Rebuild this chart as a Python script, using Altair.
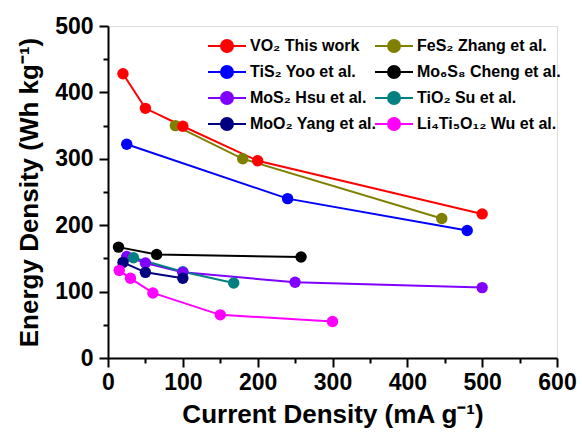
import altair as alt
import pandas as pd

series = ["VO₂ This work", "FeS₂ Zhang et al.", "TiS₂ Yoo et al.", "Mo₆S₈ Cheng et al.",
          "MoS₂ Hsu et al.", "TiO₂ Su et al.", "MoO₂ Yang et al.", "Li₄Ti₅O₁₂ Wu et al."]
colors = ["#ff0000", "#808000", "#0000ff", "#000000", "#8000ff", "#008080", "#000080", "#ff00ff"]

vo2_x = [20, 50, 100, 200, 500]
vo2_y = [428, 376, 349, 297, 217]
fes2_x = [90, 180, 446]
fes2_y = [350, 300, 210]
tis2_x = [25, 240, 480]
tis2_y = [322, 240, 192]
mo6s8_x = [14, 65, 258]
mo6s8_y = [167, 156, 152]
mos2_x = [25, 50, 100, 250, 500]
mos2_y = [153, 143, 129, 114, 106]
tio2_x = [34, 100, 168]
tio2_y = [151, 130, 113]
moo2_x = [20, 50, 100]
moo2_y = [144, 129, 120]
lto_x = [15, 30, 60, 150, 300]
lto_y = [132, 120, 98, 65, 55]

xs = [vo2_x, fes2_x, tis2_x, mo6s8_x, mos2_x, tio2_x, moo2_x, lto_x]
ys = [vo2_y, fes2_y, tis2_y, mo6s8_y, mos2_y, tio2_y, moo2_y, lto_y]

rows = []
for name, sx, sy in zip(series, xs, ys):
    for i, (a, b) in enumerate(zip(sx, sy)):
        rows.append({"series": name, "x": a, "y": b, "order": i})
df = pd.DataFrame(rows)

# legend is filled column by column: left column first, then right column
legend_order = series[0::2] + series[1::2]
legend_colors = colors[0::2] + colors[1::2]

FONT = "Liberation Sans"
sym = "M-1.9,0L1.9,0M-0.6,0A0.6,0.6,0,1,1,0.6,0A0.6,0.6,0,1,1,-0.6,0Z"

color = alt.Color("series:N",
                  scale=alt.Scale(domain=legend_order, range=legend_colors),
                  legend=alt.Legend(title=None, orient="none", legendX=108, legendY=9,
                                    padding=0, columns=2, columnPadding=-6, rowPadding=5,
                                    symbolType=sym, symbolSize=400, symbolStrokeWidth=2,
                                    labelFont=FONT, labelFontSize=16, labelFontWeight="bold",
                                    labelColor="black", labelOffset=12, labelLimit=300))


def make_axis(vals, title, tpad, lpad):
    return alt.Axis(values=vals,
                    labelExpr="datum.value % 100 === 0 ? datum.label : ''",
                    tickSize={"condition": {"test": "datum.value % 100 === 0", "value": 9},
                              "value": 5},
                    tickWidth=2, tickColor="black", domainColor="black", domainWidth=2,
                    labelFont=FONT, labelFontSize=23, labelFontWeight="bold",
                    labelColor="black", labelPadding=lpad, labelFlush=False,
                    title=title, titleFont=FONT, titleFontSize=26,
                    titleFontWeight="bold", titleColor="black", titlePadding=tpad,
                    grid=False)


xaxis = make_axis(list(range(0, 601, 50)), "Current Density (mA g⁻¹)", 7, 4)
yaxis = make_axis(list(range(0, 501, 50)), "Energy Density (Wh kg⁻¹)", 12, 6)

chart = alt.Chart(df).mark_line(
    strokeWidth=2,
    point=alt.OverlayMarkDef(filled=True, size=130, opacity=1)
).encode(
    x=alt.X("x:Q", scale=alt.Scale(domain=[0, 600], nice=False), axis=xaxis),
    y=alt.Y("y:Q", scale=alt.Scale(domain=[0, 500], nice=False), axis=yaxis),
    color=color,
    order="order:Q",
    detail="series:N",
).properties(
    width=449, height=332,
    autosize=alt.AutoSizeParams(type="none"),
    padding={"left": 108, "top": 26, "right": 25, "bottom": 76},
).configure_view(stroke="black", strokeWidth=2).configure(background="white")

chart.save("out.html", embed_options={"renderer": "svg", "actions": False})
